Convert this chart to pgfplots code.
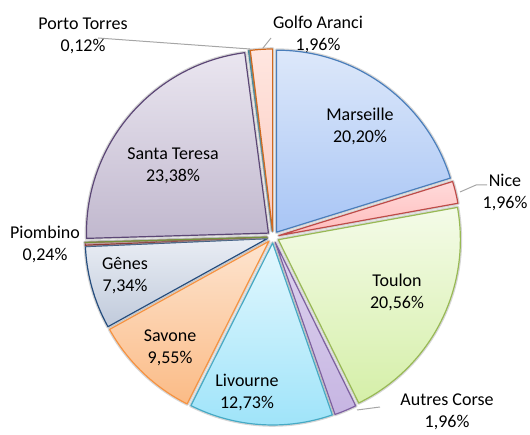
\documentclass[border=0pt]{standalone}
\usepackage{pgfplots}
\pgfplotsset{compat=1.18}
\usepackage{fontspec}
\setmainfont{Carlito}

\definecolor{marT}{HTML}{DDE8FA}\definecolor{marB}{HTML}{A8C5F5}\definecolor{marO}{HTML}{4A7EBB}
\definecolor{nicT}{HTML}{FFDADA}\definecolor{nicB}{HTML}{FFBBBB}\definecolor{nicO}{HTML}{BE4B48}
\definecolor{touT}{HTML}{F4FBE8}\definecolor{touB}{HTML}{D5EFA8}\definecolor{touO}{HTML}{98B954}
\definecolor{autT}{HTML}{DED4EF}\definecolor{autB}{HTML}{C6B5E2}\definecolor{autO}{HTML}{7D60A0}
\definecolor{livT}{HTML}{E4F8FE}\definecolor{livB}{HTML}{9DE3F9}\definecolor{livO}{HTML}{46AAC5}
\definecolor{savT}{HTML}{FDE4CF}\definecolor{savB}{HTML}{FBBB86}\definecolor{savO}{HTML}{F69240}
\definecolor{genT}{HTML}{E9EDF4}\definecolor{genB}{HTML}{C0CADB}\definecolor{genO}{HTML}{254D7E}
\definecolor{pioT}{HTML}{E6BDBC}\definecolor{pioB}{HTML}{D49896}\definecolor{pioO}{HTML}{8E3A38}
\definecolor{zerO}{HTML}{76923C}
\definecolor{staT}{HTML}{EAE6F0}\definecolor{staB}{HTML}{C1B8CE}\definecolor{staO}{HTML}{5C4776}
\definecolor{porT}{HTML}{D6EEF4}\definecolor{porB}{HTML}{B3DFEA}\definecolor{porO}{HTML}{31859C}
\definecolor{golT}{HTML}{FFE6E0}\definecolor{golB}{HTML}{FBCABE}\definecolor{golO}{HTML}{D0691E}
\definecolor{leader}{HTML}{A6A6A6}

\def\R{182}
\def\E{6}
\def\cum{0}
\newcommand\slice[4]{%
  \pgfmathsetmacro\sa{90-3.6*\cum}%
  \pgfmathsetmacro\sb{90-3.6*(\cum+#1)}%
  \pgfmathsetmacro\sm{(\sa+\sb)/2}%
  \pgfmathsetmacro\ox{\E*cos(\sm)}%
  \pgfmathsetmacro\oy{\E*sin(\sm)}%
  \pgfmathsetmacro\sx{\ox+\R*cos(\sa)}%
  \pgfmathsetmacro\sy{\oy+\R*sin(\sa)}%
  \pgfmathsetmacro\rc{\R*0.5}%
  \edef\doit{%
    \noexpand\draw[black!40,line width=1.8pt,opacity=0.4,line join=round]
      (axis cs:\ox,\oy) -- (axis cs:\sx,\sy) arc[start angle=\sa,end angle=\sb,radius=\rc pt] -- cycle;
    \noexpand\shade[top color=#2,bottom color=#3,draw=#4,line width=0.6pt,line join=round]
      (axis cs:\ox,\oy) -- (axis cs:\sx,\sy) arc[start angle=\sa,end angle=\sb,radius=\rc pt] -- cycle;}%
  \doit
  \pgfmathsetmacro\newcum{\cum+#1}%
  \xdef\cum{\newcum}%
}

\begin{document}
\begin{tikzpicture}
\begin{axis}[hide axis, clip=false,
  x=0.5pt, y=0.5pt,
  xmin=-273, xmax=257, ymin=-197, ymax=237]
\addplot[draw=none] coordinates {(-273,-197) (257,237)};
\slice{20.20}{marT}{marB}{marO}
\slice{1.96}{nicT}{nicB}{nicO}
\slice{20.56}{touT}{touB}{touO}
\slice{1.96}{autT}{autB}{autO}
\slice{12.73}{livT}{livB}{livO}
\slice{9.55}{savT}{savB}{savO}
\slice{7.34}{genT}{genB}{genO}
\slice{0.24}{pioT}{pioB}{pioO}
\slice{0}{zerO}{zerO}{zerO}
\slice{23.38}{staT}{staB}{staO}
\slice{0.12}{porT}{porB}{porO}
\slice{1.96}{golT}{golB}{golO}

% leader lines
\draw[leader,line width=0.5pt] (axis cs:-175,199) -- (axis cs:-23,188);
\draw[leader,line width=0.5pt] (axis cs:-2,199) -- (axis cs:-10,189);
\draw[leader,line width=0.5pt] (axis cs:214,52) -- (axis cs:203,52) -- (axis cs:187,45);
\draw[leader,line width=0.5pt] (axis cs:107,-170) -- (axis cs:84,-173);

% labels
\tikzset{lab/.style={align=center,font=\fontsize{9}{11}\selectfont,inner sep=0pt}}
\node[lab] at (axis cs:-190,201.5) {Porto Torres\\0,12\%};
\node[lab] at (axis cs:45,203) {Golfo Aranci\\1,96\%};
\node[lab] at (axis cs:87,111) {Marseille\\20,20\%};
\node[lab] at (axis cs:232,45) {Nice\\1,96\%};
\node[lab] at (axis cs:124,-55) {Toulon\\20,56\%};
\node[lab] at (axis cs:174,-175) {Autres Corse\\1,96\%};
\node[lab] at (axis cs:-26,-155) {Livourne\\12,73\%};
\node[lab] at (axis cs:-103,-111) {Savone\\9,55\%};
\node[lab] at (axis cs:-148,-39) {Gênes\\7,34\%};
\node[lab] at (axis cs:-228,-7) {Piombino\\0,24\%};
\node[lab] at (axis cs:-100,71) {Santa Teresa\\23,38\%};
\end{axis}
\pgfresetboundingbox
\path[use as bounding box] (current axis.south west) rectangle (current axis.north east);
\end{tikzpicture}
\end{document}
